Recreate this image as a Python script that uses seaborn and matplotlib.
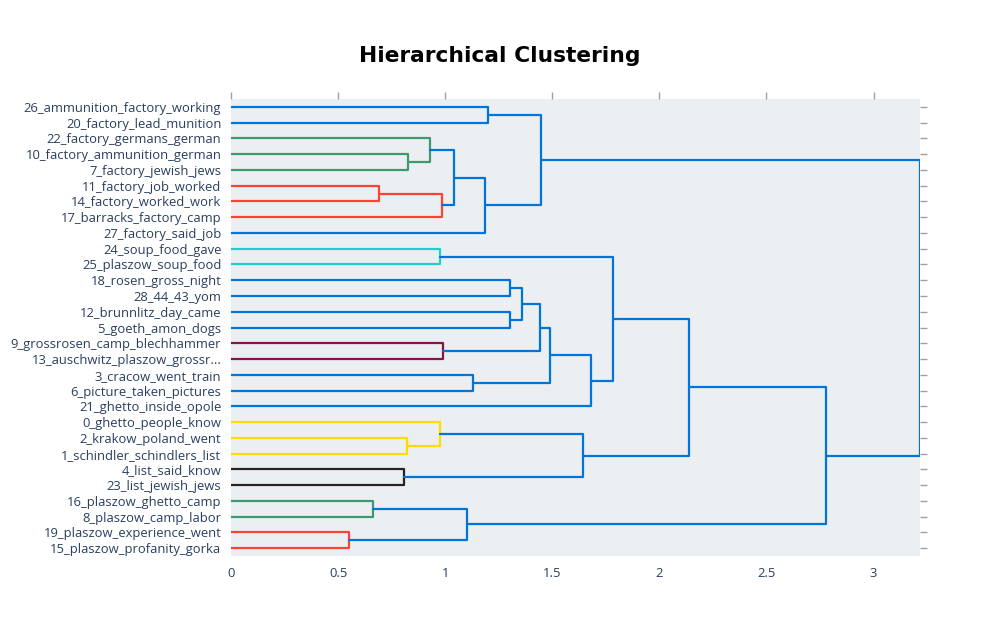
import pandas as pd
import matplotlib.pyplot as plt
import seaborn as sns

# topic labels, indexed by topic id
topic_labels = [
    "0_ghetto_people_know", "1_schindler_schindlers_list", "2_krakow_poland_went",
    "3_cracow_went_train", "4_list_said_know", "5_goeth_amon_dogs",
    "6_picture_taken_pictures", "7_factory_jewish_jews", "8_plaszow_camp_labor",
    "9_grossrosen_camp_blechhammer", "10_factory_ammunition_german",
    "11_factory_job_worked", "12_brunnlitz_day_came",
    "13_auschwitz_plaszow_grossr...", "14_factory_worked_work",
    "15_plaszow_profanity_gorka", "16_plaszow_ghetto_camp",
    "17_barracks_factory_camp", "18_rosen_gross_night",
    "19_plaszow_experience_went", "20_factory_lead_munition",
    "21_ghetto_inside_opole", "22_factory_germans_german", "23_list_jewish_jews",
    "24_soup_food_gave", "25_plaszow_soup_food", "26_ammunition_factory_working",
    "27_factory_said_job", "28_44_43_yom",
]

# linkage: ids < 29 are topics, ids >= 29 are earlier merges (29 + row)
# first child is drawn below the second
left_child = [15, 8, 14, 23, 1, 7, 34, 25, 33, 17, 13, 38, 29, 6, 27, 20,
              28, 5, 46, 39, 43, 42, 32, 21, 52, 51, 41, 55]
right_child = [19, 16, 11, 4, 2, 10, 22, 24, 0, 31, 9, 35, 30, 3, 40, 26,
               18, 12, 45, 47, 44, 48, 37, 50, 36, 53, 54, 49]
merge_height = [0.551, 0.664, 0.692, 0.807, 0.824, 0.827, 0.930, 0.974,
                0.978, 0.986, 0.989, 1.042, 1.104, 1.132, 1.184, 1.202,
                1.301, 1.301, 1.358, 1.442, 1.449, 1.489, 1.645, 1.679,
                1.783, 2.140, 2.776, 3.217]
merge_color = ["r", "g", "r", "k", "y", "g", "g", "c", "y", "r", "m", "b",
               "b", "b", "b", "b", "b", "b", "b", "b", "b", "b", "b", "b",
               "b", "b", "b", "b"]

palette = {
    "b": "rgb(0,116,217)", "c": "rgb(35,205,205)", "g": "rgb(61,153,112)",
    "k": "rgb(40,35,35)", "m": "rgb(133,20,75)", "r": "rgb(255,65,54)",
    "y": "rgb(255,220,0)",
}
palette = {k: tuple(int(c) / 255 for c in v[4:-1].split(",")) for k, v in palette.items()}

n_leaves = len(topic_labels)
root = n_leaves + len(merge_height) - 1


def leaves_of(node):
    if node < n_leaves:
        return [node]
    i = node - n_leaves
    return leaves_of(left_child[i]) + leaves_of(right_child[i])


leaf_order = leaves_of(root)  # bottom to top
pos = {leaf: 5 + 10 * k for k, leaf in enumerate(leaf_order)}
height = {leaf: 0.0 for leaf in leaf_order}

rows = []
for i in range(len(merge_height)):
    a, b, h = left_child[i], right_child[i], merge_height[i]
    xs = [height[a], h, h, height[b]]
    ys = [pos[a], pos[a], pos[b], pos[b]]
    for j in range(4):
        rows.append({"link": i, "order": j, "x": xs[j], "y": ys[j], "color": merge_color[i]})
    node = n_leaves + i
    pos[node] = (pos[a] + pos[b]) / 2
    height[node] = h

links = pd.DataFrame(rows)

sns.set_style("white")
plt.rcParams["font.family"] = ["Open Sans", "DejaVu Sans"]

fig = plt.figure(figsize=(10, 6.35), dpi=100)
ax = fig.add_axes([0.231, 0.1244, 0.689, 0.7197])
ax.set_facecolor("#ECEFF1")

sns.lineplot(data=links, x="x", y="y", units="link", estimator=None, sort=False,
             hue="color", palette=palette, legend=False, linewidth=1.6, ax=ax)

ax.set_xlim(0, merge_height[-1])
ax.set_ylim(0, 10 * n_leaves)
ax.set_xlabel("")
ax.set_ylabel("")
for s in ax.spines.values():
    s.set_visible(False)

ax.set_xticks([0, 0.5, 1, 1.5, 2, 2.5, 3])
ax.set_xticklabels(["0", "0.5", "1", "1.5", "2", "2.5", "3"])
ax.set_yticks([pos[l] for l in leaf_order])
ax.set_yticklabels([topic_labels[l] for l in leaf_order])
ax.tick_params(axis="both", direction="out", length=5, width=1, color="#a0a0a0",
               labelcolor="#2a3f5f", labelsize=9.4, top=True, right=True, pad=2)
ax.tick_params(axis="x", pad=3)

fig.text(0.5, 0.912, "Hierarchical Clustering", ha="center", va="center",
         fontsize=15.7, fontweight="bold", family="DejaVu Sans", color="black")

fig.savefig("out.png", dpi=100)
